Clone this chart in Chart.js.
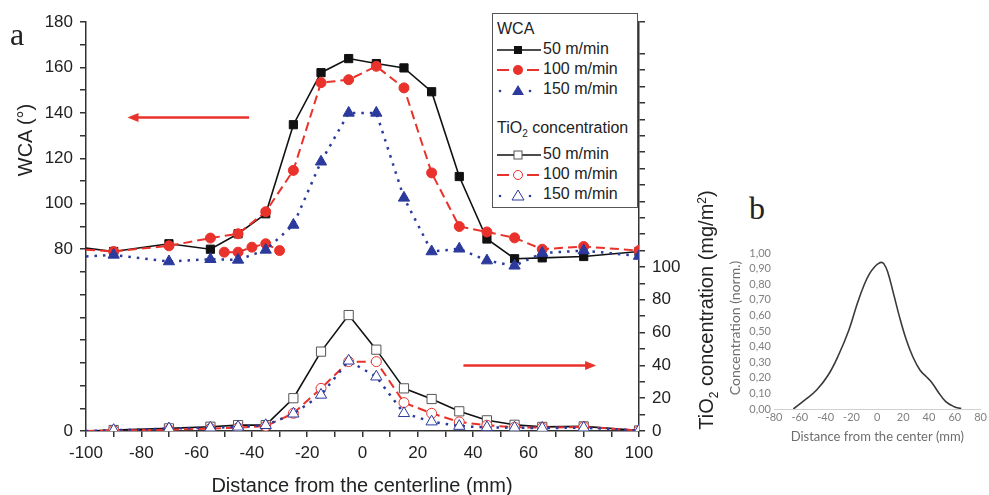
<!DOCTYPE html>
<html>
<head>
<meta charset="utf-8">
<title>WCA and TiO2 concentration profiles</title>
<script src="https://cdn.jsdelivr.net/npm/chart.js@4.4.1/dist/chart.umd.min.js"></script>
<style>
    body { margin: 0; background: #fff; }
    #wrap { position: relative; width: 989px; height: 495px; overflow: hidden;
            font-family: "Liberation Sans", Arial, sans-serif; color: #222; }
    #chartA { position: absolute; left: 0; top: 0; }
    #chartB { position: absolute; left: 720px; top: 235px; }
    .panel { position: absolute; font-family: "Liberation Serif", "Times New Roman", serif; font-size: 32px; line-height: 32px; }
    .atitle { position: absolute; white-space: nowrap; font-size: 20px; line-height: 24px; }
    .rot { transform: translate(-50%, -50%) rotate(-90deg); }
    .hor { transform: translate(-50%, -50%); }
    .atitle sub, .atitle sup { font-size: 12px; }
    .btitle { position: absolute; white-space: nowrap; font-family: "Lato", "Noto Sans", sans-serif;
              font-size: 14px; line-height: 16px; color: #6e6e6e; }
    #legend { position: absolute; left: 492px; top: 13px; width: 144px; height: 193px;
              border: 1px solid #555; background: #fff; font-size: 16px; }
    #legend .row { position: absolute; left: 4px; height: 20px; line-height: 20px; white-space: nowrap; }
    #legend svg { vertical-align: middle; margin-right: 2px; }
    #legend sub { font-size: 10px; }
</style>
</head>
<body>
<div id="wrap">
    <canvas id="chartA" width="720" height="495"></canvas>
    <canvas id="chartB" width="269" height="210"></canvas>

    <div class="panel" style="left:10px; top:18px;">a</div>
    <div class="panel" style="left:749px; top:192px;">b</div>

    <div class="atitle rot" style="left:25px; top:140px;">WCA (°)</div>
    <div class="atitle hor" style="left:362px; top:485px;">Distance from the centerline (mm)</div>
    <div class="atitle rot" style="left:708px; top:310px;">TiO<sub>2</sub> concentration (mg/m<sup>2</sup>)</div>
    <div class="btitle rot" style="left:735px; top:328px;">Concentration (norm.)</div>

    <div id="legend">
        <div class="row" style="top:5px;">WCA</div>
        <div class="row" style="top:25px;">
            <svg width="44" height="14"><line x1="0" y1="7" x2="44" y2="7" stroke="#111" stroke-width="1.6"/><rect x="17" y="3" width="8" height="8" fill="#111"/></svg>50 m/min</div>
        <div class="row" style="top:45px;">
            <svg width="44" height="14"><line x1="0" y1="7" x2="12" y2="7" stroke="#e8322b" stroke-width="2"/><line x1="30" y1="7" x2="42" y2="7" stroke="#e8322b" stroke-width="2"/><circle cx="21" cy="7" r="5" fill="#e8322b"/></svg>100 m/min</div>
        <div class="row" style="top:65px;">
            <svg width="44" height="14"><circle cx="3" cy="8" r="1.3" fill="#2b3a9c"/><circle cx="33" cy="8" r="1.3" fill="#2b3a9c"/><polygon points="15,12 27,12 21,2" fill="#2b3a9c"/></svg>150 m/min</div>
        <div class="row" style="top:104px;">TiO<sub>2</sub> concentration</div>
        <div class="row" style="top:130px;">
            <svg width="44" height="14"><line x1="0" y1="7" x2="44" y2="7" stroke="#111" stroke-width="1.6"/><rect x="17" y="3" width="8" height="8" fill="#fff" stroke="#555" stroke-width="1"/></svg>50 m/min</div>
        <div class="row" style="top:150px;">
            <svg width="44" height="14"><line x1="0" y1="7" x2="12" y2="7" stroke="#e8322b" stroke-width="2"/><line x1="30" y1="7" x2="42" y2="7" stroke="#e8322b" stroke-width="2"/><circle cx="21" cy="7" r="4.5" fill="#fff" stroke="#e8322b" stroke-width="1"/></svg>100 m/min</div>
        <div class="row" style="top:170px;">
            <svg width="44" height="14"><circle cx="3" cy="8" r="1.3" fill="#2b3a9c"/><circle cx="33" cy="8" r="1.3" fill="#2b3a9c"/><polygon points="15,12 27,12 21,2" fill="#fff" stroke="#2b3a9c" stroke-width="1"/></svg>150 m/min</div>
    </div>
</div>

<script>
// ---- panel a data ----
const xPos = [-100, -90, -70, -55, -45, -35, -25, -15, -5, 5, 15, 25, 35, 45, 55, 65, 80, 100];

const wca50  = [80.5, 79, 82.4, 80, 86.8, 95.6, 134.8, 157.7, 163.9, 161.7, 159.8, 149.3, 112, 84.5, 75.8, 76.2, 76.8, 79];
const wca100 = [79.8, 79, 81.5, 84.9, 86.8, 96.5, 114.7, 153.3, 154.6, 160.5, 151, 113.6, 90, 87.6, 85, 80, 81.2, 79.4];
const wca150 = [76.8, 77.5, 74.6, 75.6, 75.3, 79.7, 90.7, 118.5, 140, 140, 102.6, 79, 80.2, 75, 72.7, 78.3, 79.4, 77];

// stray 100 m/min WCA points below the main curve
const wca100bX = [-50, -45, -40, -35, -30];
const wca100bY = [78.7, 78.7, 80.9, 82.4, 79.4];

const tio50  = [0, 0.6, 1.6, 2.6, 3.6, 3.6, 20, 48.4, 70.7, 49.6, 26, 19.5, 12, 6.5, 3.8, 2.5, 2.8, 0.3];
const tio100 = [0, 0.3, 0.8, 1.5, 2, 3, 10.8, 26, 42.3, 42.3, 17.3, 10.8, 5.5, 3.5, 2.3, 2, 2.5, 0.3];
const tio150 = [0, 0.5, 1.5, 2, 2.5, 3.5, 10.5, 22, 42.8, 33.1, 10.8, 5.7, 3, 2.2, 2, 1.8, 2, 0.3];

const xTickLabels = [-100, -80, -60, -40, -20, 0, 20, 40, 60, 80, 100];
const leftTickLabels = [0, 80, 100, 120, 140, 160, 180];
const rightTickLabels = [0, 20, 40, 60, 80, 100];

// annotation arrows: [x from, x to, y value, axis]
const arrowLeft  = [-41, -85, 138, 'y'];
const arrowRight = [36.5, 84.5, 40, 'y2'];

// ---- panel b data ----
const bX = [-65, -56, -47, -38, -30, -22, -15.5, -10, -6, -2, 1, 3, 5, 8, 12.5, 17.5, 22.5, 27.5, 33, 38, 42, 47, 53, 59.5, 65];
const bY = [0, 0.058, 0.122, 0.218, 0.346, 0.506, 0.677, 0.80, 0.868, 0.912, 0.933, 0.94, 0.932, 0.88, 0.741, 0.581, 0.442, 0.335, 0.25, 0.207, 0.172, 0.111, 0.047, 0.015, 0.003];

const BLACK = '#111', RED = '#e8322b', BLUE = '#2b3a9c';
const FONT = '"Liberation Sans", Arial, sans-serif';

function pts(xs, ys) { return xs.map((x, i) => ({x: x, y: ys[i]})); }
// no marker at the left axis edge
function rad(r) { return ctx => ctx.dataIndex === 0 ? 0 : r; }

function drawArrow(ctx, x1, y1, x2, y2) {
    const dir = Math.sign(x2 - x1);
    ctx.save();
    ctx.strokeStyle = RED; ctx.fillStyle = RED; ctx.lineWidth = 2.5;
    ctx.beginPath(); ctx.moveTo(x1, y1); ctx.lineTo(x2 - dir * 8, y2); ctx.stroke();
    ctx.beginPath(); ctx.moveTo(x2, y2); ctx.lineTo(x2 - dir * 11, y2 - 4.5); ctx.lineTo(x2 - dir * 11, y2 + 4.5); ctx.closePath(); ctx.fill();
    ctx.restore();
}

const arrowPlugin = {
    id: 'arrows',
    afterDatasetsDraw(chart) {
        const ctx = chart.ctx, x = chart.scales.x;
        [arrowLeft, arrowRight].forEach(a => {
            const ys = chart.scales[a[3]];
            drawArrow(ctx, x.getPixelForValue(a[0]), ys.getPixelForValue(a[2]), x.getPixelForValue(a[1]), ys.getPixelForValue(a[2]));
        });
    }
};

const axisGrid = { drawOnChartArea: false, tickLength: 6, color: '#333', lineWidth: 1.5 };
const axisBorder = { color: '#333', width: 1.5 };
const tickFont = { family: FONT, size: 17 };

new Chart('chartA', {
    type: 'line',
    data: {
        datasets: [
            { data: pts(xPos, wca150), yAxisID: 'y', order: 1, borderColor: BLUE, borderWidth: 2.5, borderDash: [2.5, 6],
              pointStyle: 'triangle', pointRadius: rad(6.5), pointBackgroundColor: BLUE, pointBorderColor: BLUE, pointBorderWidth: 1 },
            { data: pts(xPos, wca100), yAxisID: 'y', order: 2, borderColor: RED, borderWidth: 2, borderDash: [9, 5],
              pointStyle: 'circle', pointRadius: rad(5), pointBackgroundColor: RED, pointBorderColor: RED, pointBorderWidth: 1 },
            { data: pts(wca100bX, wca100bY), yAxisID: 'y', order: 2, borderColor: RED, borderWidth: 2, borderDash: [9, 5],
              pointStyle: 'circle', pointRadius: 5, pointBackgroundColor: RED, pointBorderColor: RED, pointBorderWidth: 1 },
            { data: pts(xPos, wca50), yAxisID: 'y', order: 3, borderColor: BLACK, borderWidth: 1.6,
              pointStyle: 'rect', pointRadius: rad(5.8), pointBackgroundColor: BLACK, pointBorderColor: BLACK, pointBorderWidth: 1 },

            { data: pts(xPos, tio150), yAxisID: 'y2', order: 1, borderColor: BLUE, borderWidth: 2.5, borderDash: [2.5, 6],
              pointStyle: 'triangle', pointRadius: rad(6.5), pointBackgroundColor: '#fff', pointBorderColor: BLUE, pointBorderWidth: 1 },
            { data: pts(xPos, tio100), yAxisID: 'y2', order: 2, borderColor: RED, borderWidth: 2, borderDash: [9, 5],
              pointStyle: 'circle', pointRadius: rad(5), pointBackgroundColor: '#fff', pointBorderColor: RED, pointBorderWidth: 1 },
            { data: pts(xPos, tio50), yAxisID: 'y2', order: 3, borderColor: BLACK, borderWidth: 1.6,
              pointStyle: 'rect', pointRadius: rad(6.5), pointBackgroundColor: '#fff', pointBorderColor: '#555', pointBorderWidth: 1 }
        ]
    },
    options: {
        responsive: false,
        animation: false,
        layout: { padding: { top: 22, left: 0, right: 0, bottom: 0 } },
        plugins: { legend: { display: false }, tooltip: { enabled: false } },
        scales: {
            x: {
                type: 'linear', min: -100, max: 100,
                ticks: { stepSize: 10, autoSkip: false, maxRotation: 0, padding: 6, color: '#222', font: tickFont,
                         callback: v => xTickLabels.includes(v) ? v : '' },
                grid: axisGrid, border: axisBorder,
                afterFit: s => { s.height = 64; }
            },
            y: {
                position: 'left', min: 0, max: 180,
                ticks: { stepSize: 10, autoSkip: false, padding: 7, color: '#222', font: tickFont,
                         callback: v => leftTickLabels.includes(v) ? v : '' },
                grid: axisGrid, border: axisBorder,
                afterFit: s => { s.width = 86; }
            },
            y2: {
                position: 'right', min: 0, max: 249.4,
                ticks: { stepSize: 10, autoSkip: false, padding: 7, color: '#222', font: tickFont,
                         callback: v => rightTickLabels.includes(v) ? v : '' },
                grid: axisGrid, border: axisBorder,
                afterFit: s => { s.width = 81; }
            }
        }
    },
    plugins: [arrowPlugin]
});

const bFont = '"Lato", "Noto Sans", sans-serif';

new Chart('chartB', {
    type: 'line',
    data: {
        datasets: [{
            data: pts(bX, bY), borderColor: '#3a3a3a', borderWidth: 1.6, pointRadius: 0,
            tension: 0.4, fill: false
        }]
    },
    options: {
        responsive: false,
        animation: false,
        layout: { padding: { top: 18, left: 0, right: 0, bottom: 0 } },
        plugins: { legend: { display: false }, tooltip: { enabled: false } },
        scales: {
            x: {
                type: 'linear', min: -80, max: 80,
                ticks: { stepSize: 20, autoSkip: false, padding: 2, maxRotation: 0, color: '#808080', font: { family: bFont, size: 11 } },
                grid: { drawOnChartArea: false, drawTicks: false },
                border: { color: '#d0d0d0', width: 1 },
                title: { display: true, text: 'Distance from the center (mm)', color: '#6e6e6e',
                         font: { family: bFont, size: 13 }, padding: { top: 6, bottom: 0 } },
                afterFit: s => { s.height = 36; }
            },
            y: {
                min: 0, max: 1,
                ticks: { stepSize: 0.1, autoSkip: false, padding: 3, color: '#808080', font: { family: bFont, size: 11 },
                         callback: v => v.toFixed(2).replace('.', ',') },
                grid: { display: false, drawTicks: false },
                border: { display: false },
                afterFit: s => { s.width = 54; }
            }
        }
    }
});
</script>
</body>
</html>
